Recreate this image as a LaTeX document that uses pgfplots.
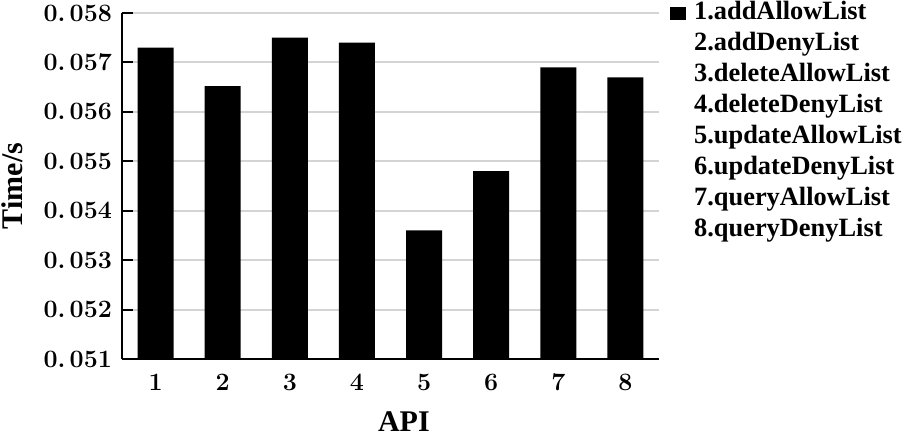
\documentclass[border=0pt]{standalone}
\usepackage{fontspec}
\setmainfont{Liberation Serif}
\newfontfamily\lmfont{Latin Modern Roman}
\usepackage{pgfplots}
\pgfplotsset{compat=1.18}
\begin{document}
\begin{tikzpicture}
\path[use as bounding box] (-61pt,-39pt) rectangle (391.5pt,179.5pt);
\begin{axis}[
  at={(0,0)}, anchor=south west,
  scale only axis, width=268.5pt, height=173pt,
  ybar, bar width=18pt,
  xmin=0.5, xmax=8.5, ymin=0.051, ymax=0.058,
  scaled y ticks=false,
  xtick={1,2,3,4,5,6,7,8},
  ytick={0.051,0.052,0.053,0.054,0.055,0.056,0.057,0.058},
  yticklabels={0.\,051,0.\,052,0.\,053,0.\,054,0.\,055,0.\,056,0.\,057,0.\,058},
  xticklabels={1,2,3,4,5,6,7,8},
  axis x line*=bottom, axis y line*=left,
  axis line style={line width=1pt},
  ymajorgrids, grid style={black!17, line width=1pt},
  tick align=inside, major tick length=5.5pt,
  ytick style={black, line width=1pt},
  xtick style={draw=none},
  tick label style={font=\lmfont\bfseries\fontsize{12.5}{13}\selectfont},
  yticklabel style={xshift=-1.5pt},
  xticklabel style={yshift=-4pt},
  xlabel={API}, ylabel={Time/s},
  label style={font=\bfseries\fontsize{15}{16}\selectfont},
  xlabel style={at={(axis description cs:0.525,-0.182)}, anchor=center},
  ylabel style={at={(axis description cs:-0.205,0.5)}, anchor=center},
  legend style={at={(axis description cs:1.02,1.045)}, anchor=north west,
    draw=none, fill=none, inner sep=0pt, row sep=0pt, column sep=3pt,
    font=\bfseries\fontsize{13.2}{15.5}\selectfont,
    nodes={text height=10pt, text depth=3.5pt, inner sep=1pt}},
  legend cell align=left,
  legend image code/.code={\fill[black] (0pt,-3.2pt) rectangle (8pt,3.3pt);},
]
\addplot[fill=black, draw=none] coordinates
  {(1,0.0573)(2,0.05652)(3,0.0575)(4,0.0574)(5,0.0536)(6,0.0548)(7,0.0569)(8,0.0567)};
\addlegendentry{1.addAllowList}
\addlegendimage{empty legend}\addlegendentry{2.addDenyList}
\addlegendimage{empty legend}\addlegendentry{3.deleteAllowList}
\addlegendimage{empty legend}\addlegendentry{4.deleteDenyList}
\addlegendimage{empty legend}\addlegendentry{5.updateAllowList}
\addlegendimage{empty legend}\addlegendentry{6.updateDenyList}
\addlegendimage{empty legend}\addlegendentry{7.queryAllowList}
\addlegendimage{empty legend}\addlegendentry{8.queryDenyList}
\end{axis}
\end{tikzpicture}
\end{document}
